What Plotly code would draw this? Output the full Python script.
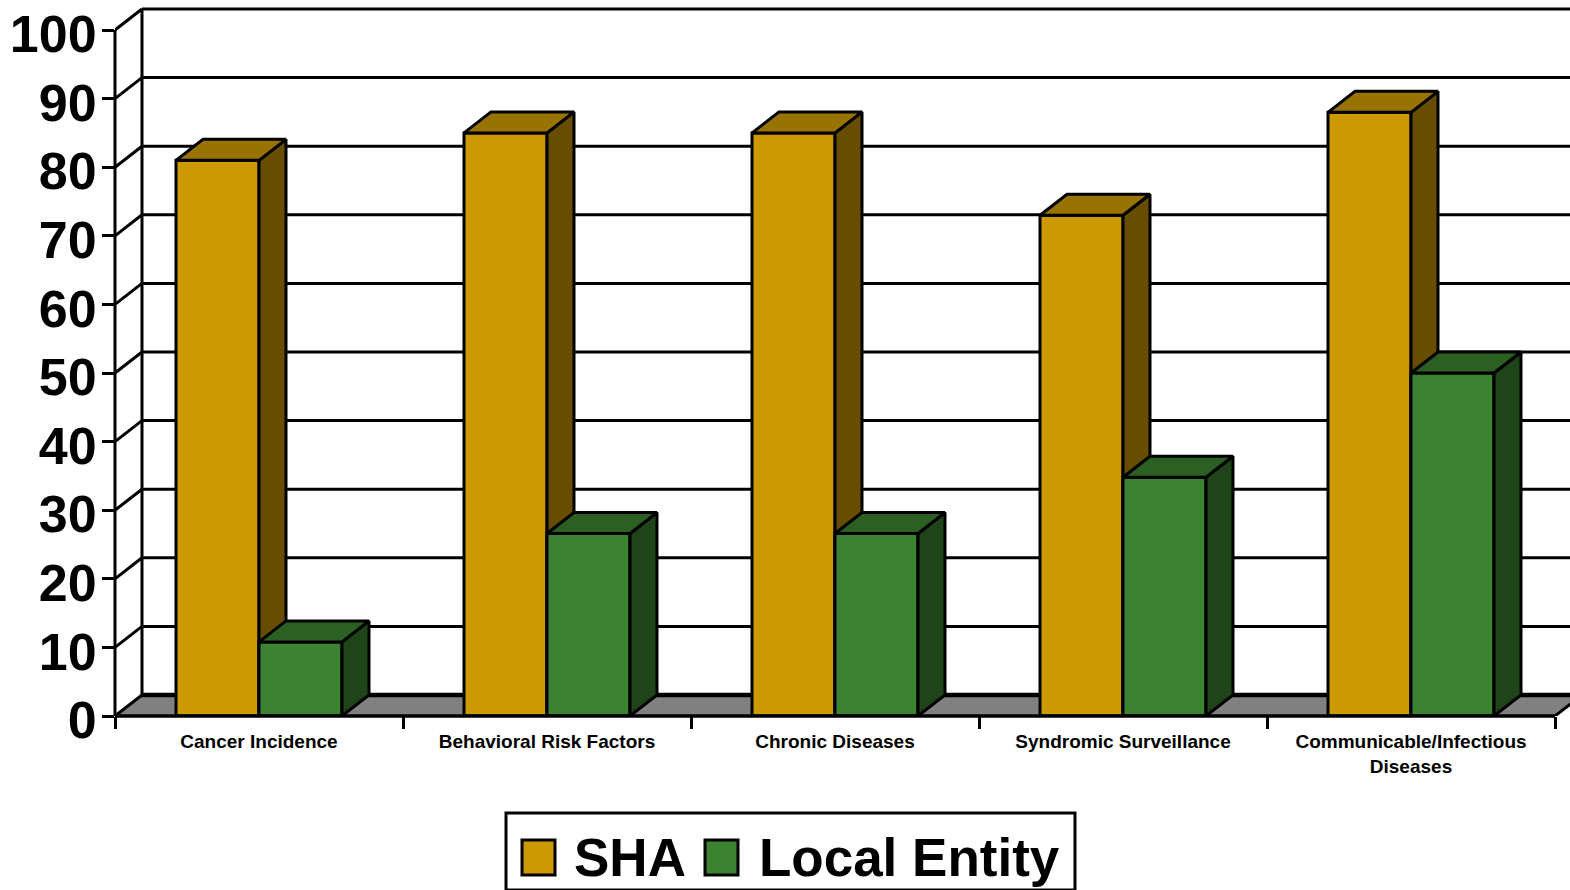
import plotly.graph_objects as go

categories = ["Cancer Incidence", "Behavioral Risk Factors", "Chronic Diseases",
              "Syndromic Surveillance", "Communicable/Infectious<br>Diseases"]
sha_values = [81, 85, 85, 73, 88]
local_values = [10.8, 26.6, 26.6, 34.8, 50]
y_ticks = [0, 10, 20, 30, 40, 50, 60, 70, 80, 90, 100]

GOLD, GOLD_TOP, GOLD_SIDE = "#CC9900", "#997300", "#664D00"
GREEN, GREEN_TOP, GREEN_SIDE = "#3B8330", "#2C5F22", "#1F4419"
FLOOR = "#808080"
LW = 3

W, H = 1570, 890
L, B = 115, 174
PX_X, PX_Y = 288, 6.86
DX, DY = 27 / PX_X, 21 / PX_Y
BAR_W = 83 / PX_X
X_RANGE = [0, (W - L) / PX_X]
Y_RANGE = [0, (H - B) / PX_Y]
centers = [i + 0.5 for i in range(len(categories))]


def faces(left_edges, width, values):
    tx, ty, sx, sy = [], [], [], []
    for x0, v in zip(left_edges, values):
        x1 = x0 + width
        tx += [x0, x0 + DX, x1 + DX, x1, x0, None]
        ty += [v, v + DY, v + DY, v, v, None]
        sx += [x1, x1 + DX, x1 + DX, x1, x1, None]
        sy += [v, v + DY, DY, 0, v, None]
    return tx, ty, sx, sy


def poly(x, y, color, xaxis, yaxis):
    return go.Scatter(x=x, y=y, mode="lines", fill="toself", fillcolor=color,
                      line=dict(color="black", width=LW), showlegend=False,
                      hoverinfo="skip", xaxis=xaxis, yaxis=yaxis)


fig = go.Figure()
fig.add_trace(go.Bar(x=centers, y=sha_values, width=BAR_W, offset=-BAR_W, name="SHA",
                     marker=dict(color=GOLD, line=dict(color="black", width=LW)),
                     showlegend=False, xaxis="x", yaxis="y"))
gx = [c - BAR_W for c in centers]
tx, ty, sx, sy = faces(gx, BAR_W, sha_values)
fig.add_trace(poly(sx, sy, GOLD_SIDE, "x", "y"))
fig.add_trace(poly(tx, ty, GOLD_TOP, "x", "y"))

fig.add_trace(go.Bar(x=centers, y=local_values, width=BAR_W, offset=0, name="Local Entity",
                     marker=dict(color=GREEN, line=dict(color="black", width=LW)),
                     showlegend=False, xaxis="x2", yaxis="y2"))
tx, ty, sx, sy = faces(centers, BAR_W, local_values)
fig.add_trace(poly(sx, sy, GREEN_SIDE, "x2", "y2"))
fig.add_trace(poly(tx, ty, GREEN_TOP, "x2", "y2"))

# legend entries
fig.add_trace(go.Bar(x=[None], y=[None], name="SHA", marker=dict(color=GOLD, line=dict(width=0)),
                     xaxis="x", yaxis="y"))
fig.add_trace(go.Bar(x=[None], y=[None], name="Local Entity", marker=dict(color=GREEN, line=dict(width=0)),
                     xaxis="x", yaxis="y"))

shapes = []
line = dict(color="black", width=LW)


def below(x0, x1, y0, y1, width=LW):
    shapes.append(dict(type="line", xref="x", yref="y", layer="below", x0=x0, x1=x1,
                       y0=y0, y1=y1, line=dict(color="black", width=width)))


# floor
shapes.append(dict(type="path", xref="x", yref="y", layer="below",
                   path=f"M 0 0 L {DX} {DY} L {X_RANGE[1] + DX} {DY} L {5 + DX} {DY} L 5 0 Z",
                   fillcolor=FLOOR, line=dict(width=0)))
# back wall grid and left wall diagonals
for t in y_ticks:
    below(DX, X_RANGE[1], t + DY, t + DY, 4.5 if t == 0 else LW)
    below(0, DX, t, t + DY)
below(DX, DX, DY, 100 + DY)
below(5, 5 + DX, 0, DY)


def paper_x(px):
    return (px - L) / (W - L)


def paper_y(py):
    return (H - B - py) / (H - B)


# axis lines that stop at the last tick (paper refs are not clipped at the plot edge)
shapes.append(dict(type="line", xref="paper", yref="paper", layer="above", x0=0, x1=0,
                   y0=0, y1=100 / Y_RANGE[1], line=line))
shapes.append(dict(type="line", xref="paper", yref="paper", layer="above", x0=0,
                   x1=5 / X_RANGE[1], y0=0, y1=0, line=dict(color="black", width=3.5)))

# legend frame and swatches
shapes.append(dict(type="rect", xref="paper", yref="paper", layer="above",
                   x0=paper_x(506), x1=paper_x(1075), y0=paper_y(890), y1=paper_y(813),
                   line=line))
for px, col in ((522, GOLD), (705, GREEN)):
    shapes.append(dict(type="rect", xref="paper", yref="paper", layer="above",
                       x0=paper_x(px), x1=paper_x(px + 33), y0=paper_y(875), y1=paper_y(840),
                       fillcolor=col, line=line))

axis_common = dict(showline=False, showgrid=False, zeroline=False)
fig.update_layout(
    width=W, height=H, autosize=False,
    margin=dict(l=L, r=0, t=0, b=B, pad=0),
    paper_bgcolor="white", plot_bgcolor="white",
    font=dict(family="Liberation Sans", color="black"),
    barmode="overlay",
    showlegend=True,
    shapes=shapes,
    xaxis=dict(range=X_RANGE, tickmode="array", tickvals=list(range(6)), ticktext=[""] * 6,
               ticks="outside", ticklen=12, tickwidth=LW, tickcolor="black", **axis_common),
    xaxis2=dict(range=X_RANGE, overlaying="x", side="bottom", tickmode="array", tickvals=centers,
                ticktext=[f"<b>{c}</b>" for c in categories], ticks="", ticklabelstandoff=12,
                tickangle=0, tickfont=dict(size=19), **axis_common),
    yaxis=dict(range=Y_RANGE, tickmode="array", tickvals=y_ticks,
               ticktext=[f"<b>{t}</b>" for t in y_ticks], ticks="outside", ticklen=12,
               tickwidth=LW, tickcolor="black", tickfont=dict(size=52), ticklabelstandoff=-5,
               ticklabelshift=4, ticklabeloverflow="allow", **axis_common),
    yaxis2=dict(range=Y_RANGE, overlaying="y", showticklabels=False, ticks="", **axis_common),
    legend=dict(orientation="h", xref="container", yref="container",
                x=506 / W, xanchor="left", y=(H - 814) / H, yanchor="top",
                bgcolor="rgba(255,255,255,0)", borderwidth=0,
                font=dict(size=53, weight="bold"), itemwidth=58, traceorder="normal"),
)
fig.write_html("out.html", config={"displayModeBar": False},
               post_script="document.body.style.margin='0';document.documentElement.style.overflow='hidden';")
